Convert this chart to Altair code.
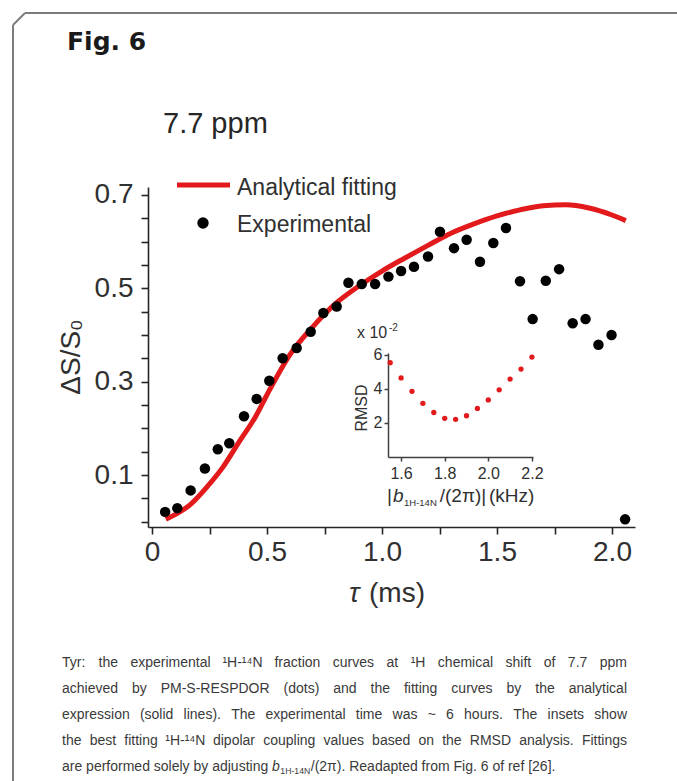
import altair as alt
import pandas as pd

# ---------------- data ----------------
tau_exp = [0.057, 0.11, 0.168, 0.23, 0.286, 0.336, 0.40, 0.455, 0.51, 0.568, 0.629, 0.69,
           0.745, 0.803, 0.854, 0.912, 0.97, 1.028, 1.083, 1.139, 1.20, 1.252, 1.313, 1.368,
           1.426, 1.484, 1.539, 1.60, 1.655, 1.712, 1.77, 1.829, 1.885, 1.941, 1.998, 2.057]
ds_exp = [0.021, 0.029, 0.067, 0.114, 0.155, 0.168, 0.226, 0.263, 0.302, 0.350, 0.372, 0.407,
          0.447, 0.461, 0.512, 0.509, 0.509, 0.525, 0.537, 0.546, 0.568, 0.621, 0.586, 0.604,
          0.557, 0.597, 0.629, 0.515, 0.434, 0.516, 0.541, 0.425, 0.434, 0.379, 0.400, 0.005]
tau_fit = [0.06, 0.10, 0.165, 0.24, 0.31, 0.38, 0.45, 0.50, 0.60, 0.70, 0.80, 0.90, 1.00,
           1.10, 1.20, 1.30, 1.40, 1.50, 1.60, 1.70, 1.80, 1.90, 2.00, 2.06]
ds_fit = [0.005, 0.015, 0.036, 0.075, 0.118, 0.172, 0.225, 0.272, 0.358, 0.418, 0.468, 0.505,
          0.537, 0.565, 0.592, 0.618, 0.638, 0.655, 0.668, 0.677, 0.679, 0.672, 0.657, 0.645]
b_khz = [1.55, 1.60, 1.65, 1.70, 1.75, 1.80, 1.85, 1.90, 1.95, 2.00, 2.05, 2.10, 2.15, 2.20]
rmsd = [5.53, 4.64, 3.85, 3.15, 2.61, 2.27, 2.21, 2.42, 2.85, 3.35, 3.94, 4.57, 5.16, 5.86]

x_tick_values = [0, 0.25, 0.5, 0.75, 1.0, 1.25, 1.5, 1.75, 2.0]
y_tick_values = [0, 0.05, 0.1, 0.15, 0.2, 0.25, 0.3, 0.35, 0.4, 0.45, 0.5, 0.55, 0.6, 0.65, 0.7]
inset_x_ticks = [1.6, 1.8, 2.0, 2.2]
inset_y_ticks = [2, 4, 6]
legend_labels = ["Analytical fitting", "Experimental"]
caption_lines = [
    "Tyr: the experimental ¹H-¹⁴N fraction curves at ¹H chemical shift of 7.7 ppm",
    "achieved by PM-S-RESPDOR (dots) and the fitting curves by the analytical",
    "expression (solid lines). The experimental time was ~ 6 hours. The insets show",
    "the best fitting ¹H-¹⁴N dipolar coupling values based on the RMSD analysis. Fittings",
]
caption_last = ["are performed solely by adjusting ", "b", "1H-14N", "/(2π). Readapted from Fig. 6 of ref [26]."]

# ---------------- layout ----------------
W, H = 487, 340
OX, OY = 148, 187
FONT = "Liberation Sans, Arial, sans-serif"
CFONT = "Liberation Sans, Arial, sans-serif"
RED = "#e31a1c"
AXC = "#262626"
TXT = "#303030"
CCOL = "#3a3a3a"

one = pd.DataFrame({"k": [0]})


def label(text, ax, ay, size, font=FONT, weight="normal", style="normal", align="left",
          baseline="alphabetic", color=TXT, angle=0):
    return alt.Chart(one).mark_text(
        text=text, font=font, fontSize=size, fontWeight=weight, fontStyle=style,
        align=align, baseline=baseline, color=color, angle=angle
    ).encode(x=alt.value(ax - OX), y=alt.value(ay - OY))


def seg(ax1, ay1, ax2, ay2, color="#7c7c7c", width=2):
    return alt.Chart(one).mark_rule(color=color, strokeWidth=width).encode(
        x=alt.value(ax1 - OX), y=alt.value(ay1 - OY),
        x2=alt.value(ax2 - OX), y2=alt.value(ay2 - OY))


# ---------------- main plot ----------------
xs = alt.Scale(domain=[-0.0174, 2.1], nice=False, zero=False)
ys = alt.Scale(domain=[-0.0114, 0.717], nice=False, zero=False)

common_axis = dict(grid=False, domainColor=AXC, domainWidth=1.6, tickColor=AXC, tickWidth=1.6,
                   tickSize=7, labelFont=FONT, labelFontSize=28, labelColor=TXT,
                   labelFlush=False, labelOverlap=False, title=None)
xaxis = alt.Axis(values=x_tick_values, labelPadding=4,
                 labelExpr="datum.value == 0 ? '0' : (abs(datum.value*2 - round(datum.value*2)) < 1e-6 ? format(datum.value, '.1f') : '')",
                 **common_axis)
yaxis = alt.Axis(values=y_tick_values, labelPadding=8,
                 labelExpr="(abs(datum.value*10 - round(datum.value*10)) < 1e-6 && round(datum.value*10) % 2 == 1) ? format(datum.value, '.1f') : ''",
                 **common_axis)

fit_df = pd.DataFrame({"tau": tau_fit, "ds": ds_fit})
exp_df = pd.DataFrame({"tau": tau_exp, "ds": ds_exp})

line = alt.Chart(fit_df).mark_line(color=RED, strokeWidth=5, interpolate="monotone").encode(
    x=alt.X("tau:Q", scale=xs, axis=xaxis),
    y=alt.Y("ds:Q", scale=ys, axis=yaxis))
points = alt.Chart(exp_df).mark_circle(color="#000000", size=110, opacity=1).encode(
    x=alt.X("tau:Q", scale=xs, axis=xaxis),
    y=alt.Y("ds:Q", scale=ys, axis=yaxis))

# ---------------- caption (justified lines) ----------------
AW = {" ": 278, "(": 333, ")": 333, "-": 333, ".": 278, "/": 278, ":": 278, "[": 278, "]": 278,
      "~": 584, "|": 260, "¹": 333, "⁴": 333, "π": 556}
for c in "0123456789":
    AW[c] = 556
AW.update(dict(zip("ABCDEFGHIJKLMNOPQRSTUVWXYZ",
                   [667, 667, 722, 722, 667, 611, 778, 722, 278, 500, 667, 556, 833, 722, 778,
                    667, 778, 722, 667, 611, 722, 667, 944, 667, 667, 611])))
AW.update(dict(zip("abcdefghijklmnopqrstuvwxyz",
                   [556, 556, 500, 556, 556, 278, 556, 556, 222, 222, 500, 222, 833, 556, 556,
                    556, 556, 333, 500, 278, 556, 500, 722, 500, 500, 500])))
CS = 14
CL, CR = 62, 627
CY = [667, 693, 719, 745, 771]


def tw(s, size):
    return sum(AW.get(ch, 556) for ch in s) / 1000.0 * size


rows_l, rows_c, rows_r = [], [], []
for i, ln in enumerate(caption_lines):
    words = ln.split(" ")
    widths = [tw(w, CS) for w in words]
    gap = (CR - CL - sum(widths)) / (len(words) - 1)
    x = CL
    for j, (w, wd) in enumerate(zip(words, widths)):
        if j == 0:
            rows_l.append({"w": w, "x": x - OX, "y": CY[i] - OY})
        elif j == len(words) - 1:
            rows_r.append({"w": w, "x": CR - OX, "y": CY[i] - OY})
        else:
            rows_c.append({"w": w, "x": x + wd / 2 - OX, "y": CY[i] - OY})
        x += wd + gap


def cap_layer(rows, align):
    return alt.Chart(pd.DataFrame(rows)).mark_text(
        font=CFONT, fontSize=CS, color=CCOL, align=align, baseline="alphabetic").encode(
        x=alt.X("x:Q", scale=None, axis=None), y=alt.Y("y:Q", scale=None, axis=None), text="w:N")


caption = [cap_layer(rows_l, "left"), cap_layer(rows_c, "center"), cap_layer(rows_r, "right")]

x5 = CL
last_parts = []
last_parts.append(label(caption_last[0], x5, CY[4], CS, font=CFONT, color=CCOL))
x5 += tw(caption_last[0], CS)
last_parts.append(label(caption_last[1], x5, CY[4], CS, font=CFONT, style="italic", color=CCOL))
x5 += tw(caption_last[1], CS) + 0.5
last_parts.append(label(caption_last[2], x5, CY[4] + 3, CS * 0.62, font=CFONT, color=CCOL))
x5 += tw(caption_last[2], CS * 0.62) + 0.5
last_parts.append(label(caption_last[3], x5, CY[4], CS, font=CFONT, color=CCOL))

# ---------------- inset x title pieces (flowed) ----------------
IT = 19
ix = 387
inset_title = []
inset_title.append(label("|", ix, 502, IT))
ix += tw("|", IT) + 1
inset_title.append(label("b", ix, 502, IT, style="italic"))
ix += tw("b", IT) + 0.5
inset_title.append(label("1H-14N", ix, 506, 9.5))
ix += tw("1H-14N", 9.5) + 3
inset_title.append(label("/(2π)|", ix, 502, IT))
ix += tw("/(2π)| ", IT)
inset_title.append(label("(kHz)", ix, 502, IT))

# ---------------- annotations ----------------
annots = [
    seg(25, 13, 677, 13), seg(13, 25, 13, 781), seg(13, 25, 25, 13),
    label("Fig. 6", 67, 50, 25, font="DejaVu Sans", weight="bold", color="#1a1a1a"),
    label("7.7 ppm", 163, 133, 29, color="#262626"),
    seg(177, 185, 230, 185, color=RED, width=5),
    alt.Chart(one).mark_circle(color="#000000", size=130, opacity=1).encode(
        x=alt.value(203 - OX), y=alt.value(223 - OY)),
    label(legend_labels[0], 237, 195, 23),
    label(legend_labels[1], 237, 232, 23),
    label("ΔS/S₀", 72, 357, 28, align="center", baseline="middle", angle=270),
    label("τ", 349, 602, 28, style="italic"),
    label("(ms)", 369, 602, 28),
    # inset texts
    label("x 10", 357, 338, 16),
    label("-2", 389, 331, 10),
    label("RMSD", 362, 408, 16, align="center", baseline="middle", angle=270),
]

main = alt.layer(line, points, *caption, *last_parts, *inset_title, *annots)

# ---------------- inset ----------------
inset_df = pd.DataFrame({"b": b_khz, "rmsd": rmsd})
inset_common = dict(grid=False, domainColor="#404040", domainWidth=1.5, tickColor="#404040",
                    tickWidth=1.5, tickSize=4, labelFont=FONT, labelFontSize=16,
                    labelColor=TXT, labelFlush=False, labelOverlap=False, title=None)
inset = alt.Chart(inset_df).mark_circle(color=RED, size=28, opacity=1).encode(
    x=alt.X("b:Q", scale=alt.Scale(domain=[1.54, 2.205], range=[240, 385], nice=False, zero=False),
            axis=alt.Axis(orient="bottom", offset=-70, values=inset_x_ticks, format=".1f",
                          labelPadding=4, **inset_common)),
    y=alt.Y("rmsd:Q", scale=alt.Scale(domain=[0, 6.1], range=[270, 166], nice=False, zero=False),
            axis=alt.Axis(orient="left", offset=-240, values=inset_y_ticks, format="d",
                          labelPadding=2, **inset_common)),
)

chart = alt.layer(main, inset).resolve_scale(x="independent", y="independent").properties(
    width=W, height=H,
    padding={"left": OX, "top": OY, "right": 677 - OX - W, "bottom": 781 - OY - H},
    autosize=alt.AutoSizeParams(type="none"),
    background="white",
).configure_view(stroke=None)

chart.save("out.html", embed_options={"renderer": "svg", "actions": False})
